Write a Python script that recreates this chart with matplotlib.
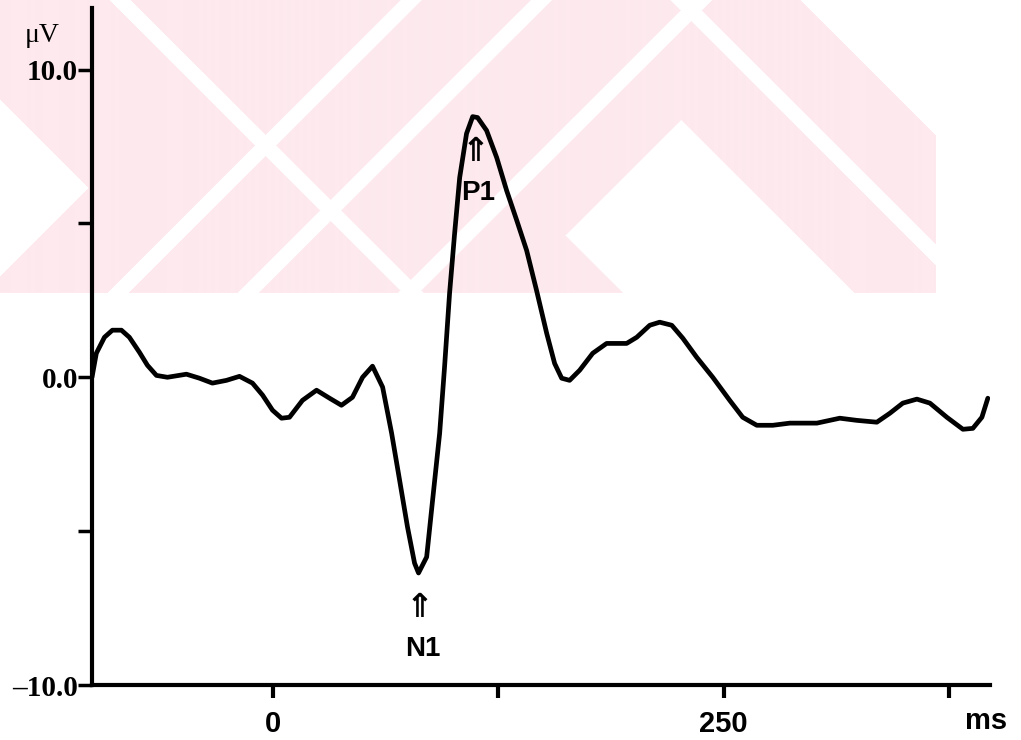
import matplotlib.pyplot as plt
import numpy as np

# averaged evoked response, time in ms and amplitude in microvolts
t_ms = [-100.0, -97.6, -93.1, -88.7, -83.7, -79.3, -73.7, -69.3, -64.3, -58.2,
        -47.7, -40.5, -33.3, -25.5, -18.3, -11.1, -5.5, 0.0, 5.0, 9.4,
        16.6, 24.4, 31.6, 38.2, 44.3, 49.9, 55.4, 61.0, 66.0, 70.4,
        74.8, 78.7, 80.9, 85.4, 88.7, 92.6, 95.3, 98.1, 100.9, 103.7,
        107.5, 110.9, 113.6, 118.6, 124.2, 129.7, 135.3, 140.8, 146.3, 151.9,
        156.3, 160.2, 164.6, 170.2, 177.4, 185.1, 196.2, 201.8, 209.0, 214.5,
        221.2, 227.3, 235.0, 243.9, 253.3, 260.5, 268.3, 277.2, 286.6, 301.6,
        314.3, 323.7, 334.8, 342.0, 349.2, 357.0, 364.2, 373.6, 382.5, 388.0,
        393.0, 396.3]
amp_uv = [0.0, 0.78, 1.30, 1.53, 1.53, 1.30, 0.81, 0.39, 0.06, 0.0,
          0.10, -0.03, -0.19, -0.10, 0.03, -0.19, -0.58, -1.07, -1.33, -1.30,
          -0.75, -0.42, -0.68, -0.91, -0.65, 0.0, 0.36, -0.32, -1.82, -3.34,
          -4.87, -6.04, -6.36, -5.84, -3.99, -1.82, 0.32, 2.73, 4.68, 6.49,
          7.92, 8.47, 8.44, 8.02, 7.14, 6.07, 5.10, 4.12, 2.82, 1.43,
          0.45, -0.03, -0.10, 0.23, 0.78, 1.10, 1.10, 1.30, 1.69, 1.79,
          1.69, 1.27, 0.65, 0.0, -0.75, -1.30, -1.56, -1.56, -1.49, -1.49,
          -1.33, -1.40, -1.46, -1.17, -0.84, -0.71, -0.84, -1.30, -1.69, -1.66,
          -1.30, -0.68]

y_ticks = [-10, -5, 0, 5, 10]
y_labels = ['\u201310.0', '', '0.0', '', '10.0']
x_ticks = [0, 125, 250, 375]
x_labels = ['0', '', '250', '']

# peaks to mark
peaks = [('N1', 80.9, -6.36), ('P1', 111.5, 8.47)]

W, H = 1021, 740
fig = plt.figure(figsize=(W / 100, H / 100), dpi=100)

# pale pink crossed bands in the background
bg = fig.add_axes([0, 0, 1, 1])
bg.axis('off')
xx, yy = np.meshgrid(np.arange(W), np.arange(H))
s, d = xx + yy, xx - yy
band = ((d > -100) & (d < 330)) | ((s > 275) & (s < 800)) | ((d > 560) & (d < 800))
pink = band & (yy < 293) & (xx < 935)
for c in [410, 540, 700]:
    pink &= ~(np.abs(s - c) < 11)
for c in [120, 680]:
    pink &= ~(np.abs(d - c) < 11)
wm = np.ones((H, W, 3))
wm[pink] = [253 / 255, 233 / 255, 238 / 255]
bg.imshow(wm, extent=[0, W, H, 0], aspect='auto')
bg.set_xlim(0, W)
bg.set_ylim(H, 0)

ax = fig.add_axes([92 / W, 1 - 685 / H, (990 - 92) / W, (685 - 8) / H])
ax.patch.set_alpha(0)
ax.plot(t_ms, amp_uv, color='black', lw=3.4,
        solid_joinstyle='round', solid_capstyle='round')

ax.set_xlim(-100, 397.5)
ax.set_ylim(-10, 12)
for sp in ['top', 'right']:
    ax.spines[sp].set_visible(False)
for sp in ['left', 'bottom']:
    ax.spines[sp].set_linewidth(3)

ax.set_yticks(y_ticks)
ax.set_yticklabels(y_labels, family='Liberation Serif', weight='bold', fontsize=21)
ax.set_xticks(x_ticks)
ax.set_xticklabels(x_labels, family='Liberation Sans', weight='bold', fontsize=21)
ax.tick_params(axis='y', length=10, width=2.5, pad=0)
ax.tick_params(axis='x', length=9, width=3, pad=9)

fig.text(25 / W, 1 - 35 / H, '\u03bcV', family='Liberation Serif',
         fontsize=20, va='center', ha='left')
fig.text(1007 / W, 1 - 721 / H, 'ms', family='Liberation Sans',
         weight='bold', fontsize=21, va='center', ha='right')

for name, t, v in peaks:
    ax.annotate('\u21d1', xy=(t, v), xytext=(1, -25), textcoords='offset points',
                ha='center', va='center', fontsize=24, weight='bold',
                family='DejaVu Sans')
    ax.annotate(name, xy=(t, v), xytext=(3, -55), textcoords='offset points',
                ha='center', va='center', fontsize=20, weight='bold',
                family='Liberation Sans')

fig.savefig('out.png', dpi=100)
